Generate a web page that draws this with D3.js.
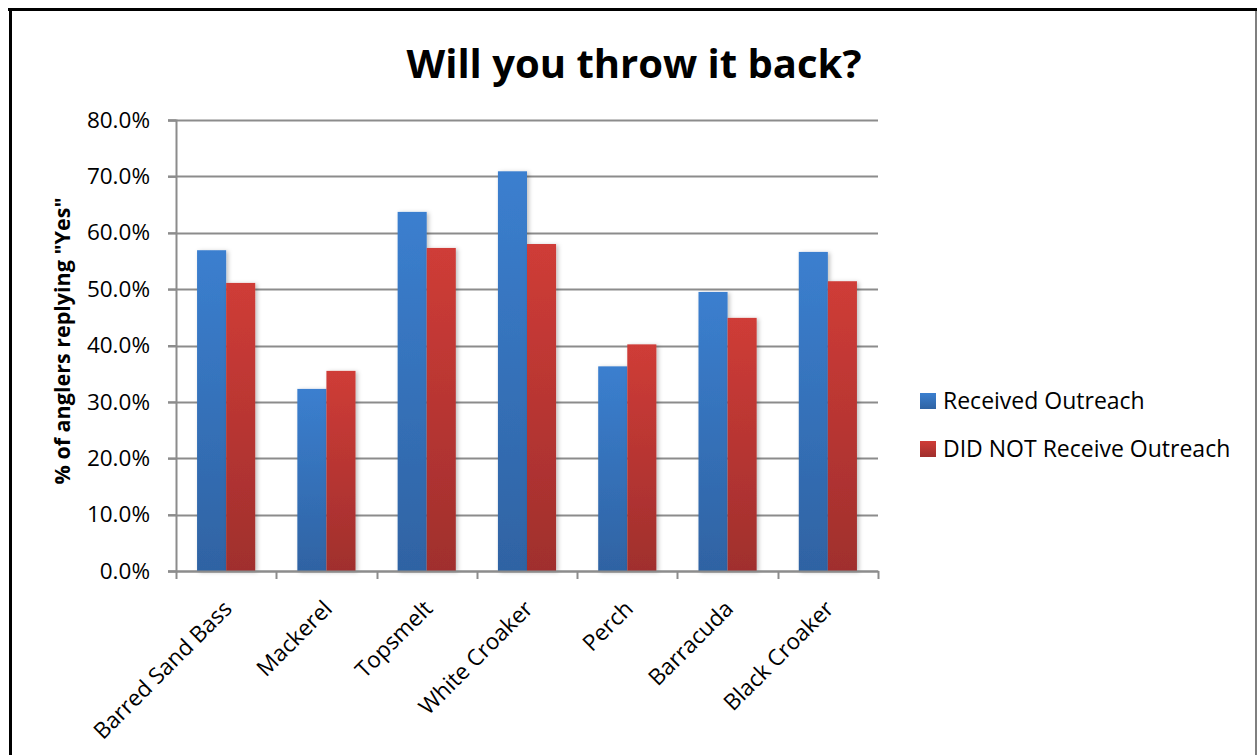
<!DOCTYPE html>
<html>
<head>
<meta charset="utf-8">
<script src="https://cdn.jsdelivr.net/npm/d3@7"></script>
<style>
  body { margin: 0; background: #fff; }
  svg { display: block; font-family: "Open Sans", "Noto Sans", sans-serif; }
</style>
</head>
<body>
<div id="chart"></div>
<script>
// Data
const species = ["Barred Sand Bass", "Mackerel", "Topsmelt", "White Croaker", "Perch", "Barracuda", "Black Croaker"];
const seriesNames = ["Received Outreach", "DID NOT Receive Outreach"];
const received = [0.569, 0.323, 0.637, 0.709, 0.363, 0.495, 0.566];
const notReceived = [0.511, 0.355, 0.573, 0.580, 0.402, 0.449, 0.514];
const yTicks = [0, 0.1, 0.2, 0.3, 0.4, 0.5, 0.6, 0.7, 0.8];

const width = 1257, height = 755;
const marginTop = 120, marginLeft = 176, plotRight = 878, plotBottom = 571;
const fontFamily = '"Open Sans", "Noto Sans", sans-serif';

const rows = species.map((s, i) => ({ species: s, values: [received[i], notReceived[i]] }));

const svg = d3.select("#chart").append("svg")
    .attr("width", width)
    .attr("height", height);

// Gradients and a soft shadow for the bars
const defs = svg.append("defs");
const gradStops = [
    ["#3b7fcf", "#2f63a3"],
    ["#cf3c37", "#a02f2d"]
];
gradStops.forEach((c, i) => {
    const g = defs.append("linearGradient")
        .attr("id", "grad" + i)
        .attr("x1", 0).attr("y1", 0).attr("x2", 0).attr("y2", 1);
    g.append("stop").attr("offset", "0%").attr("stop-color", c[0]);
    g.append("stop").attr("offset", "100%").attr("stop-color", c[1]);
});
const shadow = defs.append("filter").attr("id", "shadow")
    .attr("x", "-20%").attr("y", "-5%").attr("width", "150%").attr("height", "115%");
shadow.append("feDropShadow")
    .attr("dx", 2).attr("dy", 1).attr("stdDeviation", 2)
    .attr("flood-color", "#000").attr("flood-opacity", 0.25);

// Frame
svg.append("rect").attr("width", width).attr("height", height).attr("fill", "#fff");
svg.append("line").attr("x1", 8).attr("x2", width).attr("y1", 9.5).attr("y2", 9.5)
    .attr("stroke", "#000").attr("stroke-width", 3);
svg.append("line").attr("x1", 10.5).attr("x2", 10.5).attr("y1", 8).attr("y2", height)
    .attr("stroke", "#000").attr("stroke-width", 3);
svg.append("line").attr("x1", 1256).attr("x2", 1256).attr("y1", 11).attr("y2", height)
    .attr("stroke", "#555").attr("stroke-width", 1.5);

// Scales
const x0 = d3.scaleBand()
    .domain(species)
    .range([marginLeft, plotRight])
    .paddingInner(0.42)
    .paddingOuter(0.21);
const x1 = d3.scaleBand()
    .domain([0, 1])
    .range([0, x0.bandwidth()]);
const y = d3.scaleLinear()
    .domain([0, 0.8])
    .range([plotBottom, marginTop]);
const xCat = d3.scaleBand().domain(species).range([marginLeft, plotRight]);

// Gridlines
svg.append("g")
    .selectAll("line")
    .data(yTicks)
    .join("line")
    .attr("x1", marginLeft - 8)
    .attr("x2", plotRight)
    .attr("y1", d => Math.round(y(d)) + 0.5)
    .attr("y2", d => Math.round(y(d)) + 0.5)
    .attr("stroke", "#8c8c8c")
    .attr("stroke-width", 2);

// Bars
svg.append("g")
    .selectAll("g")
    .data(rows)
    .join("g")
    .attr("transform", d => `translate(${x0(d.species)},0)`)
    .selectAll("rect")
    .data(d => d.values.map((v, i) => ({ v, i })))
    .join("rect")
    .attr("x", d => x1(d.i))
    .attr("y", d => y(d.v))
    .attr("width", x1.bandwidth())
    .attr("height", d => y(0) - y(d.v))
    .attr("fill", d => `url(#grad${d.i})`)
    .attr("filter", "url(#shadow)");

// Y axis
const yAxis = svg.append("g")
    .attr("transform", `translate(${marginLeft},0)`)
    .call(d3.axisLeft(y).tickValues(yTicks).tickFormat(d3.format(".1%")).tickSize(8).tickPadding(18));
yAxis.attr("font-family", fontFamily);
yAxis.select(".domain").attr("stroke", "#8c8c8c").attr("stroke-width", 2);
yAxis.selectAll(".tick line").attr("stroke", "#8c8c8c").attr("stroke-width", 2);
yAxis.selectAll(".tick text").attr("font-size", 22.5).attr("fill", "#000").attr("x", -26);

// X axis
const xAxis = svg.append("g")
    .attr("transform", `translate(0,${plotBottom})`)
    .call(d3.axisBottom(xCat).tickSize(0).tickFormat(""));
xAxis.select(".domain").attr("stroke", "#8c8c8c").attr("stroke-width", 2);
xAxis.selectAll(".tick").remove();
svg.append("g")
    .selectAll("line")
    .data(species.map(s => xCat(s)).concat([plotRight]))
    .join("line")
    .attr("x1", d => Math.round(d) + 0.5)
    .attr("x2", d => Math.round(d) + 0.5)
    .attr("y1", plotBottom)
    .attr("y2", plotBottom + 8)
    .attr("stroke", "#8c8c8c")
    .attr("stroke-width", 2);

svg.append("g")
    .selectAll("text")
    .data(species)
    .join("text")
    .attr("transform", d => `translate(${xCat(d) + xCat.bandwidth() / 2 - 4},${plotBottom + 28}) rotate(-45)`)
    .attr("text-anchor", "end")
    .attr("dy", "0.7em")
    .attr("font-size", 22.5)
    .text(d => d);

// Y axis title
svg.append("text")
    .attr("transform", `translate(70,${341}) rotate(-90)`)
    .attr("text-anchor", "middle")
    .attr("font-size", 21.5)
    .attr("font-weight", "bold")
    .text('% of anglers replying "Yes"');

// Title
svg.append("text")
    .attr("x", 634)
    .attr("y", 78)
    .attr("text-anchor", "middle")
    .attr("font-size", 40)
    .attr("font-weight", "bold")
    .text("Will you throw it back?");

// Legend
const legend = svg.append("g")
    .selectAll("g")
    .data(seriesNames)
    .join("g")
    .attr("transform", (d, i) => `translate(920,${393 + i * 48})`);
legend.append("rect")
    .attr("width", 16).attr("height", 16)
    .attr("fill", (d, i) => `url(#grad${i})`);
legend.append("text")
    .attr("x", 23)
    .attr("y", 16)
    .attr("font-size", 23)
    .text(d => d);
</script>
</body>
</html>
